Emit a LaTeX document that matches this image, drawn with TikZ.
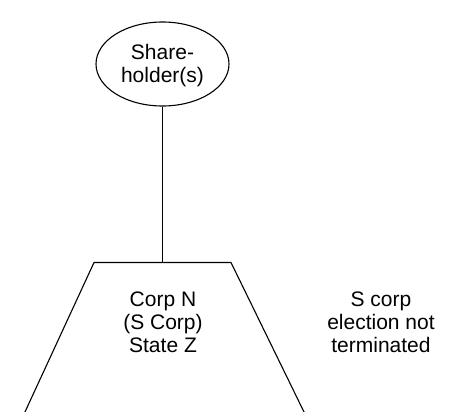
\documentclass[tikz,border=0pt]{standalone}
\usepackage{fontspec}
\setmainfont{Liberation Sans}
\usetikzlibrary{shapes.geometric}
\tikzset{
  shape line/.style={draw=black, line width=1.1pt},
  lbl/.style={align=center, inner sep=0pt, font=\fontsize{21}{23}\selectfont},
}
\begin{document}
\begin{tikzpicture}[x=1pt,y=-1pt]
\useasboundingbox (0,0) rectangle (453,412);
\node[shape line, ellipse, minimum width=133pt, minimum height=84pt, inner sep=0pt] (sh) at (162.5,64) {};
\node[lbl] (shtext) at (162.5,66) {Share-\\holder(s)};
\coordinate (ttop) at (162.5,262.5);
\begin{scope}
\clip (0,0) rectangle (453,412);
\draw[shape line, line join=miter] (24.5,413) -- (94,262.5) -- (231,262.5) -- (304.5,413);
\end{scope}
\draw[shape line] (sh.south) -- (ttop);
\node[lbl] (corp) at (163,322) {Corp N\\(S Corp)\\State Z};
\node[lbl] (note) at (381,322) {S corp\\election not\\terminated};
\end{tikzpicture}
\end{document}
